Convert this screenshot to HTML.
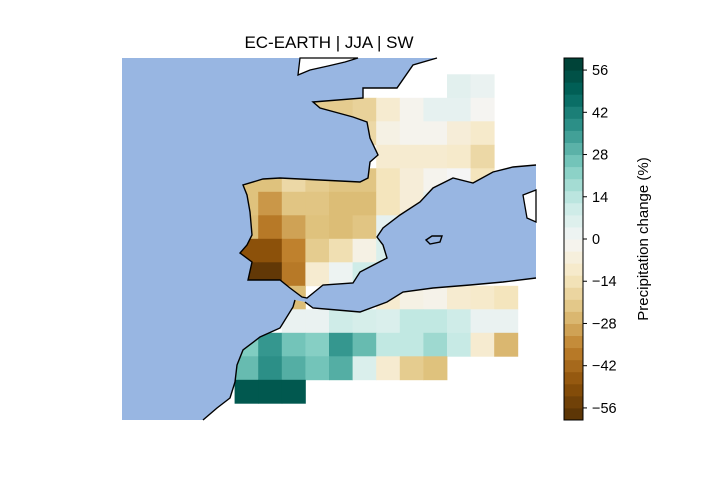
<!DOCTYPE html>
<html><head><meta charset="utf-8"><style>
body{margin:0;background:#fff;}
svg text{font-family:"Liberation Sans","DejaVu Sans",sans-serif;fill:#000;}
</style></head><body>
<svg width="720" height="480" xmlns="http://www.w3.org/2000/svg">
<defs>
<clipPath id="landclip">
<polygon points="437,58 536,58 536,165 513,167 493,172 473,183 453,178 433,188 420,202 400,215 383,228 377,237 383,245 387,258 360,272 353,283 323,285 307,298 302,297 290,288 280,280 248,280 252,262 240,253 247,245 252,235 250,212 247,195 243,185 263,179 280,178 320,180 360,182 368,178 370,162 378,155 370,138 367,122 353,117 320,108 313,102 363,98 363,88 397,88 413,65"/>
<polygon points="295,300 293,307 280,328 260,337 243,350 237,365 235,382 230,398 217,408 203,420 536,420 536,278 503,282 470,285 433,288 403,292 387,302 360,312 337,310 313,308 305,302"/>
<polygon points="426,240 432,236 442,236 440,242 430,244"/>
</clipPath>
</defs>
<text x="329" y="48" font-size="17" text-anchor="middle">EC-EARTH | JJA | SW</text>
<rect x="122" y="58" width="414" height="362" fill="#98b6e2"/>
<g>
<polygon points="298,75 310,70 328,66 345,62 358,58 300,58" fill="#fff" stroke="#000" stroke-width="1.3"/>
<polygon points="437,58 536,58 536,165 513,167 493,172 473,183 453,178 433,188 420,202 400,215 383,228 377,237 383,245 387,258 360,272 353,283 323,285 307,298 302,297 290,288 280,280 248,280 252,262 240,253 247,245 252,235 250,212 247,195 243,185 263,179 280,178 320,180 360,182 368,178 370,162 378,155 370,138 367,122 353,117 320,108 313,102 363,98 363,88 397,88 413,65" fill="#fff"/>
<polygon points="295,300 293,307 280,328 260,337 243,350 237,365 235,382 230,398 217,408 203,420 536,420 536,278 503,282 470,285 433,288 403,292 387,302 360,312 337,310 313,308 305,302" fill="#fff"/>
<polygon points="523,195 536,190 536,222 527,218" fill="#fff" stroke="#000" stroke-width="1.3"/>
</g>
<g id="cells" clip-path="url(#landclip)"></g>
<g fill="none" stroke="#000" stroke-width="1.4">
<polyline points="437,58 413,65 397,88 363,88 363,98 313,102 320,108 353,117 367,122 370,138 378,155 370,162 368,178 360,182 320,180 280,178 263,179 243,185 247,195 250,212 252,235 247,245 240,253 252,262 248,280 280,280 290,288 302,297 307,298 323,285 353,283 360,272 387,258 383,245 377,237 383,228 400,215 420,202 433,188 453,178 473,183 493,172 513,167 536,165"/>
<polyline points="295,300 293,307 280,328 260,337 243,350 237,365 235,382 230,398 217,408 203,420"/>
<polyline points="305,302 313,308 337,310 360,312 387,302 403,292 433,288 470,285 503,282 536,278"/>
<polygon points="426,240 432,236 442,236 440,242 430,244"/>
</g>
<g id="cbar"></g>
<rect x="564" y="58" width="19" height="362" fill="none" stroke="#000" stroke-width="1"/>
<g id="cticks"></g>
<text transform="translate(648,239) rotate(-90)" font-size="15" text-anchor="middle">Precipitation change (%)</text>
</svg>
<script>
const rowsY0 = 74.3, rowH = 23.5, colX0 = 211, colW = 23.6;
const cellRows = [0,0, 1,1,1,1,1,1,1,1, 2,2,2,2,2,2, 3,3,3,3,3, 4,4,4,4,4,4,4,4,4,4,4, 5,5,5,5,5,5,5,5,5, 6,6,6,6,6,6,6, 7,7,7,7,7,7,7, 8,8,8,8,8,8, 9,9,9,9,9,9,9, 10,10,10,10,10,10,10,10,10,10, 11,11,11,11,11,11,11,11,11,11,11,11, 12,12,12,12,12,12,12,12,12, 13,13,13];
const cellCols = [10,11, 4,5,6,7,8,9,10,11, 6,7,8,9,10,11, 7,8,9,10,11, 1,2,3,4,5,6,7,8,9,10,11, 1,2,3,4,5,6,7,8,9, 1,2,3,4,5,6,7, 1,2,3,4,5,6,7, 1,2,3,4,5,6, 3,7,8,9,10,11,12, 3,4,5,6,7,8,9,10,11,12, 1,2,3,4,5,6,7,8,9,10,11,12, 1,2,3,4,5,6,7,8,9, 1,2,3];
const cellValues = [5,3, -21,-21,-19,-9,-2,4,4,-1, -17,-4,-2,-2,-7,-10, -9,-9,-9,-10,-17, -24,-24,-17,-21,-23,-23,-13,-7,-2,0,-13, -24,-32,-23,-23,-25,-25,-13,-7,4, -25,-38,-30,-24,-25,-23,4, -48,-48,-36,-21,-15,-4,7, -57,-57,-38,-9,2,10, -25,-9,-4,-3,-9,-10,-13, 3,3,10,8,7,13,13,10,3,3, 24,36,26,23,36,28,13,13,19,12,-9,-26, 28,38,31,26,31,7,-9,-21,-24, 52,52,52];
const cbarTicks = [-56,-42,-28,-14,0,14,28,42,56];
const vmin = -60, vmax = 60;
const stops = ["#543005","#8c510a","#bf812d","#dfc27d","#f6e8c3","#f5f5f5","#c7eae5","#80cdc1","#35978f","#01665e","#003c30"];
function hex(h){return [1,3,5].map(i=>parseInt(h.substr(i,2),16));}
function cmap(v){
  let t=(v-vmin)/(vmax-vmin); t=Math.max(0,Math.min(1,t));
  const p=t*10, i=Math.min(9,Math.floor(p)), f=p-i;
  const a=hex(stops[i]), b=hex(stops[i+1]);
  return 'rgb('+a.map((x,k)=>Math.round(x+(b[k]-x)*f)).join(',')+')';
}
const NS='http://www.w3.org/2000/svg';
const cells=document.getElementById('cells');
for(let k=0;k<cellValues.length;k++){
  const r=document.createElementNS(NS,'rect');
  r.setAttribute('x',colX0+cellCols[k]*colW);
  r.setAttribute('y',rowsY0+cellRows[k]*rowH);
  r.setAttribute('width',colW+0.4);
  r.setAttribute('height',rowH+0.4);
  r.setAttribute('fill',cmap(cellValues[k]));
  
  
  cells.appendChild(r);
}
const cTop=58, cBot=420;
function cy(v){return cBot-(v-vmin)/(vmax-vmin)*(cBot-cTop);}
const cb=document.getElementById('cbar');
for(let v=vmin;v<vmax;v+=4){
  const r=document.createElementNS(NS,'rect');
  r.setAttribute('x',564);r.setAttribute('y',cy(v+4));
  r.setAttribute('width',19);r.setAttribute('height',cy(v)-cy(v+4)+0.5);
  r.setAttribute('fill',cmap(v+2));
  
  
  cb.appendChild(r);
}
const ct=document.getElementById('cticks');
cbarTicks.forEach(v=>{
  const y=cy(v);
  const l=document.createElementNS(NS,'line');
  l.setAttribute('x1',583);l.setAttribute('x2',587);l.setAttribute('y1',y);l.setAttribute('y2',y);
  l.setAttribute('stroke','#000');
  
  
  ct.appendChild(l);
  const t=document.createElementNS(NS,'text');
  t.setAttribute('x',592);t.setAttribute('y',y+5);t.setAttribute('font-size','14.5');
  t.textContent=(v<0?'\u2212'+(-v):String(v));
  
  
  ct.appendChild(t);
});
</script>
</body></html>
